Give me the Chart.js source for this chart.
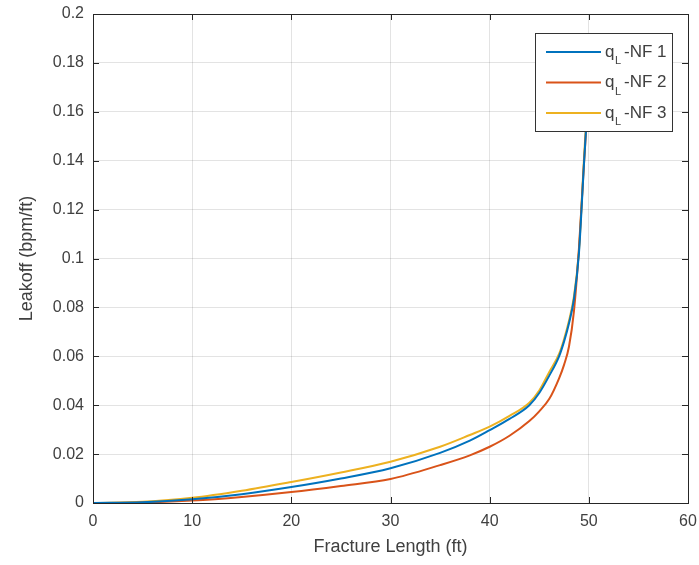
<!DOCTYPE html>
<html>
<head>
<meta charset="utf-8">
<script src="https://cdn.jsdelivr.net/npm/chart.js@4/dist/chart.umd.min.js"></script>
<style>
  html, body { margin: 0; padding: 0; background: #fff; }
  #wrap { width: 699px; height: 565px; }
</style>
</head>
<body>
<div id="wrap"><canvas id="LeakoffChart" width="699" height="565"></canvas></div>
<script>
// fracture length (ft)
const fracLength = [0, 5, 10, 15, 20, 25, 30, 35, 38, 40, 42, 44, 45, 46, 47, 47.5, 48, 48.5, 49, 49.5, 50];

// leakoff (bpm/ft)
const leakNF1 = [0, 0.0003, 0.0015, 0.0036, 0.0065, 0.0100, 0.0142, 0.0205, 0.0255, 0.0298, 0.0344, 0.0400, 0.0450, 0.0520, 0.0600, 0.0660, 0.0735, 0.0835, 0.1020, 0.1380, 0.1720];
const leakNF2 = [0, 0.0002, 0.0010, 0.0025, 0.0045, 0.0070, 0.0098, 0.0155, 0.0195, 0.0230, 0.0275, 0.0335, 0.0375, 0.0425, 0.0510, 0.0565, 0.0640, 0.0785, 0.1040, 0.1380, 0.1700];
const leakNF3 = [0, 0.0005, 0.0021, 0.0050, 0.0086, 0.0125, 0.0169, 0.0230, 0.0278, 0.0312, 0.0356, 0.0410, 0.0460, 0.0535, 0.0610, 0.0670, 0.0745, 0.0845, 0.1030, 0.1400, 0.1750];

const seriesNames = ['NF 1', 'NF 2', 'NF 3'];
const xTicks = [0, 10, 20, 30, 40, 50, 60];
const yTicks = [0, 0.02, 0.04, 0.06, 0.08, 0.1, 0.12, 0.14, 0.16, 0.18, 0.2];

const toPoints = (ys) => fracLength.map((x, i) => ({x: x, y: ys[i]}));

const axisColor = '#262626';
const textColor = '#404040';
const fontFamily = '"Liberation Sans", Arial, sans-serif';

// matlab style box with inward ticks
const boxPlugin = {
    id: 'box',
    afterDatasetsDraw(chart) {
        const {ctx, chartArea: a, scales} = chart;
        const tl = 6;
        ctx.save();
        ctx.strokeStyle = axisColor;
        ctx.lineWidth = 1;
        ctx.beginPath();
        for (const v of xTicks) {
            const px = Math.round(scales.x.getPixelForValue(v)) + 0.5;
            ctx.moveTo(px, a.bottom); ctx.lineTo(px, a.bottom - tl);
            ctx.moveTo(px, a.top); ctx.lineTo(px, a.top + tl);
        }
        for (const v of yTicks) {
            const py = Math.round(scales.y.getPixelForValue(v)) + 0.5;
            ctx.moveTo(a.left, py); ctx.lineTo(a.left + tl, py);
            ctx.moveTo(a.right, py); ctx.lineTo(a.right - tl, py);
        }
        ctx.stroke();
        ctx.strokeRect(Math.round(a.left) + 0.5, Math.round(a.top) + 0.5,
            Math.round(a.right - a.left), Math.round(a.bottom - a.top));
        ctx.restore();
    }
};

// legend box inside the axes, top right
const legendPlugin = {
    id: 'insideLegend',
    afterDraw(chart) {
        const {ctx, chartArea: a} = chart;
        const right = a.right - 16, top = a.top + 19;
        const w = 137, h = 98;
        const left = right - w;
        ctx.save();
        ctx.fillStyle = '#fff';
        ctx.fillRect(left, top, w, h);
        ctx.strokeStyle = '#333';
        ctx.lineWidth = 1;
        ctx.strokeRect(Math.round(left) + 0.5, Math.round(top) + 0.5, w, h);
        chart.data.datasets.forEach((ds, i) => {
            const y = top + 19 + i * 30.5;
            ctx.strokeStyle = ds.borderColor;
            ctx.lineWidth = 2;
            ctx.beginPath();
            ctx.moveTo(left + 11, y);
            ctx.lineTo(left + 66, y);
            ctx.stroke();
            ctx.fillStyle = textColor;
            ctx.textBaseline = 'middle';
            ctx.font = '17px ' + fontFamily;
            ctx.fillText('q', left + 70, y);
            ctx.font = '11px ' + fontFamily;
            ctx.fillText('L', left + 80, y + 9);
            ctx.font = '17px ' + fontFamily;
            ctx.fillText('-' + seriesNames[i], left + 89, y);
        });
        ctx.restore();
    }
};

const lineSet = (label, data, color) => ({
    label: label,
    data: toPoints(data),
    borderColor: color,
    backgroundColor: color,
    borderWidth: 2,
    pointRadius: 0,
    cubicInterpolationMode: 'monotone',
    fill: false,
});

new Chart(
    document.getElementById('LeakoffChart'),
    {
        type: 'line',
        data: {
            datasets: [
                lineSet('qL-NF 1', leakNF1, 'rgb(0,114,189)'),
                lineSet('qL-NF 2', leakNF2, 'rgb(217,83,25)'),
                lineSet('qL-NF 3', leakNF3, 'rgb(237,177,32)'),
            ]
        },
        options: {
            responsive: false,
            animation: false,
            events: [],
            layout: {
                padding: {left: 0, right: 11, top: 14, bottom: 0}
            },
            plugins: {
                legend: {display: false},
                tooltip: {enabled: false},
            },
            scales: {
                x: {
                    type: 'linear',
                    min: 0,
                    max: 60,
                    afterBuildTicks: (scale) => {
                        scale.ticks = xTicks.map(v => ({value: v}));
                    },
                    afterFit: (scale) => {
                        scale.height = 62;
                        scale.paddingLeft = 0;
                        scale.paddingRight = 0;
                    },
                    grid: {
                        color: 'rgba(38,38,38,0.13)',
                        drawTicks: false,
                    },
                    border: {display: false},
                    ticks: {
                        padding: 9,
                        color: textColor,
                        font: {family: fontFamily, size: 16},
                        maxRotation: 0,
                    },
                    title: {
                        display: true,
                        text: 'Fracture Length (ft)',
                        color: textColor,
                        font: {family: fontFamily, size: 18},
                        padding: {top: 0, bottom: 7},
                    }
                },
                y: {
                    type: 'linear',
                    min: 0,
                    max: 0.2,
                    afterBuildTicks: (scale) => {
                        scale.ticks = yTicks.map(v => ({value: v}));
                    },
                    afterFit: (scale) => {
                        scale.width = 93;
                        scale.paddingTop = 0;
                        scale.paddingBottom = 0;
                    },
                    grid: {
                        color: 'rgba(38,38,38,0.13)',
                        drawTicks: false,
                    },
                    border: {display: false},
                    ticks: {
                        padding: 9,
                        color: textColor,
                        font: {family: fontFamily, size: 16},
                        callback: (value) => String(+value.toFixed(2)),
                    },
                    title: {
                        display: true,
                        text: 'Leakoff (bpm/ft)',
                        color: textColor,
                        font: {family: fontFamily, size: 18},
                        padding: {top: 16, bottom: 0},
                    }
                }
            }
        },
        plugins: [boxPlugin, legendPlugin]
    }
);
</script>
</body>
</html>
